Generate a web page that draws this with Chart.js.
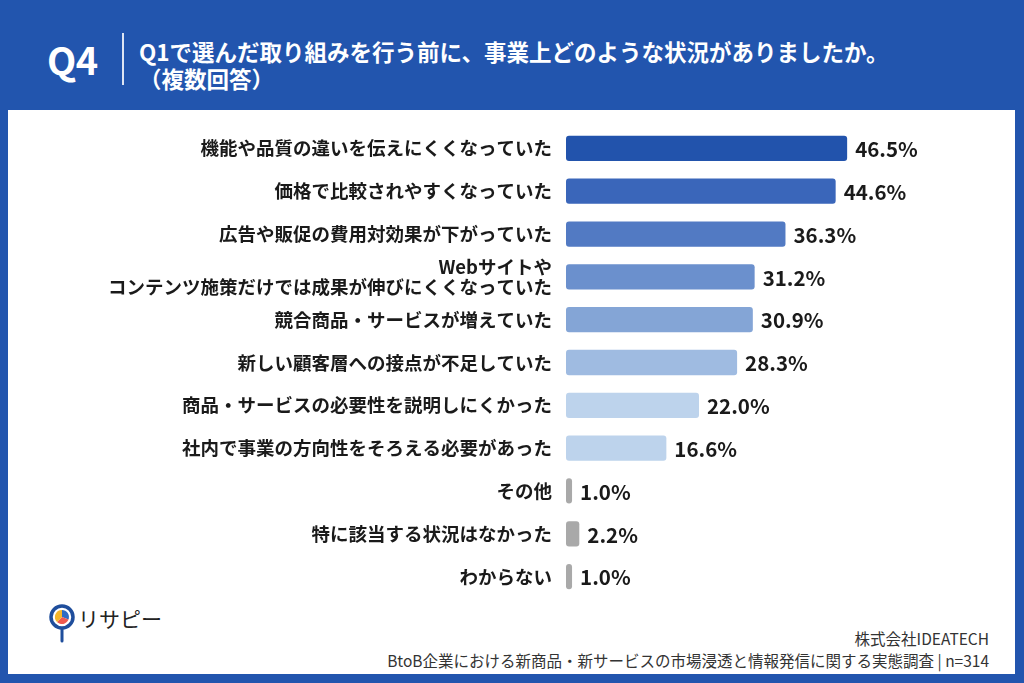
<!DOCTYPE html>
<html lang="ja">
<head>
<meta charset="utf-8">
<script src="https://cdn.jsdelivr.net/npm/chart.js@4"></script>
<style>
  html, body { margin: 0; padding: 0; }
  body {
    width: 1024px; height: 683px; background: #2255ae; position: relative; overflow: hidden;
    font-family: "Noto Sans CJK JP", "Noto Sans", sans-serif;
  }
  .panel { position: absolute; left: 8px; top: 110px; width: 1007px; height: 564px; background: #fff; }
  .q { position: absolute; left: 47px; top: 36px; color: #fff; font-weight: 700; font-size: 38px; line-height: 46px; letter-spacing: -0.5px; }
  .sep { position: absolute; left: 122px; top: 33px; width: 2px; height: 52px; background: rgba(255,255,255,0.85); }
  .title { position: absolute; left: 139px; top: 38px; color: #fff; font-weight: 700; font-size: 22.5px; line-height: 27px; }
  .chartbox { position: absolute; left: 30px; top: 127px; width: 960px; height: 471px; }
  .logo { position: absolute; left: 48px; top: 603px; }
  .logotext { position: absolute; left: 78px; top: 602px; font-size: 21px; line-height: 32px; color: #222; }
  .foot { position: absolute; right: 35px; color: #333; font-size: 15.5px; line-height: 20px; text-align: right; }
</style>
</head>
<body>
<div class="panel"></div>
<div class="q">Q4</div>
<div class="sep"></div>
<div class="title">Q1で選んだ取り組みを行う前に、事業上どのような状況がありましたか。<br>（複数回答）</div>
<div class="chartbox"><canvas id="q4Chart"></canvas></div>
<svg class="logo" width="30" height="40" viewBox="0 0 30 40">
  <line x1="14" y1="24" x2="14" y2="38" stroke="#1f4e9c" stroke-width="3" stroke-linecap="round"/>
  <circle cx="14" cy="14" r="11" fill="#fff" stroke="#1f4e9c" stroke-width="3.5"/>
  <path d="M14 14 L14 7 A7 7 0 0 1 20.5 16.5 Z" fill="#2f6cc4"/>
  <path d="M14 14 L20.5 16.5 A7 7 0 0 1 9 19 Z" fill="#ef5a4f"/>
  <path d="M14 14 L9 19 A7 7 0 0 1 14 7 Z" fill="#f5b62a"/>
</svg>
<div class="logotext">リサピー</div>
<div class="foot" style="top:628px;">株式会社IDEATECH</div>
<div class="foot" style="top:650px;">BtoB企業における新商品・新サービスの市場浸透と情報発信に関する実態調査 | n=314</div>

<script>
// 選択肢
const categories = [
  '機能や品質の違いを伝えにくくなっていた',
  '価格で比較されやすくなっていた',
  '広告や販促の費用対効果が下がっていた',
  ['Webサイトや', 'コンテンツ施策だけでは成果が伸びにくくなっていた'],
  '競合商品・サービスが増えていた',
  '新しい顧客層への接点が不足していた',
  '商品・サービスの必要性を説明しにくかった',
  '社内で事業の方向性をそろえる必要があった',
  'その他',
  '特に該当する状況はなかった',
  'わからない'
];

// 回答率（%）
const values = [46.5, 44.6, 36.3, 31.2, 30.9, 28.3, 22.0, 16.6, 1.0, 2.2, 1.0];

// 棒の色
const barColors = [
  '#2253ac', '#3a66ba', '#527ac3', '#6b90cd', '#84a5d6',
  '#9fbbe1', '#bdd3ec', '#bdd3ec', '#a9a9a9', '#a9a9a9', '#a9a9a9'
];

const FONT = '"Noto Sans CJK JP", "Noto Sans", sans-serif';

// 棒の右に数値を描く
const valueLabels = {
  id: 'valueLabels',
  afterDatasetsDraw(chart) {
    const ctx = chart.ctx;
    const meta = chart.getDatasetMeta(0);
    ctx.save();
    ctx.font = 'bold 20.5px ' + FONT;
    ctx.fillStyle = '#1a1a1a';
    ctx.textAlign = 'left';
    ctx.textBaseline = 'middle';
    meta.data.forEach(function (bar, i) {
      ctx.fillText(values[i].toFixed(1) + '%', bar.x + 8, bar.y + 1);
    });
    ctx.restore();
  }
};

new Chart(document.getElementById('q4Chart'), {
  type: 'bar',
  data: {
    labels: categories,
    datasets: [{
      data: values,
      backgroundColor: barColors,
      borderRadius: 3,
      borderSkipped: false,
      categoryPercentage: 1,
      barPercentage: 0.59
    }]
  },
  options: {
    indexAxis: 'y',
    responsive: true,
    maintainAspectRatio: false,
    animation: false,
    layout: { padding: { left: 0, right: 31, top: 0, bottom: 0 } },
    plugins: {
      legend: { display: false },
      tooltip: { enabled: false }
    },
    scales: {
      x: { display: false, min: 0, max: 65 },
      y: {
        afterFit: function (scale) {
          scale.width = 536;
          scale.paddingTop = 0;
          scale.paddingBottom = 0;
        },
        grid: { display: false, drawTicks: false },
        border: { display: false },
        ticks: {
          padding: 14,
          color: '#1a1a1a',
          font: { family: FONT, size: 18.5, weight: 'bold', lineHeight: 1.05 }
        }
      }
    }
  },
  plugins: [valueLabels]
});
</script>
</body>
</html>
